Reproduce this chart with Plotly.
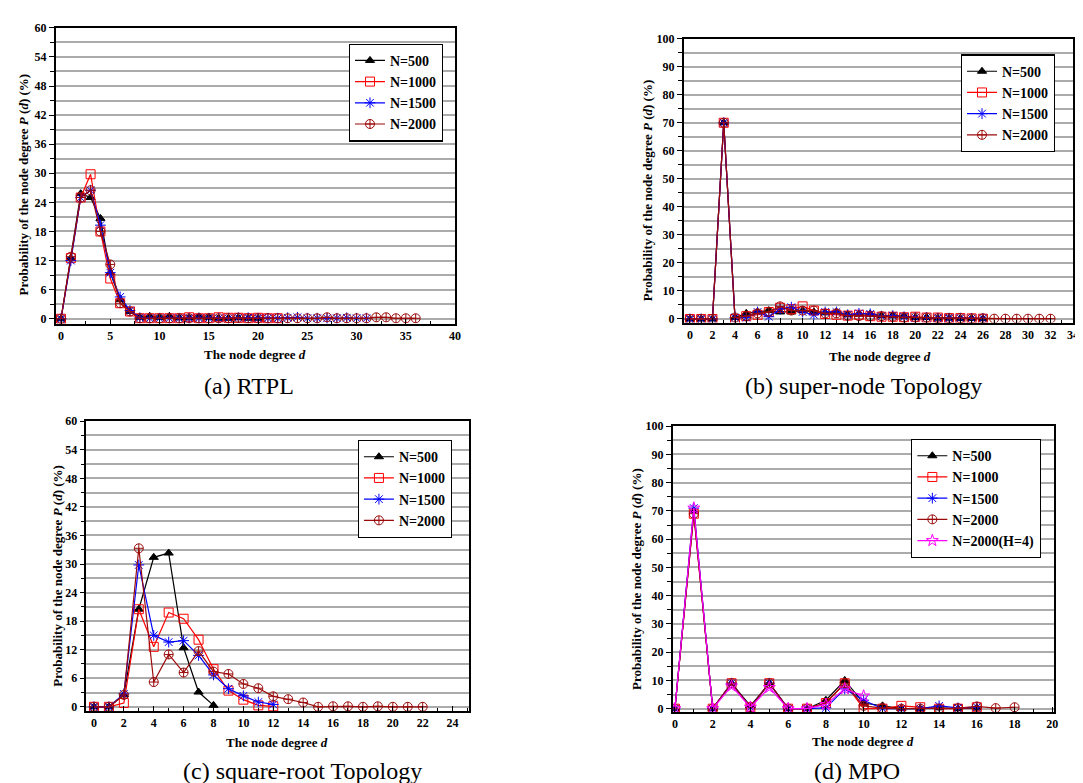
import plotly.graph_objects as go

W, H = 1083, 783

# ---------------- data ----------------
# (a) RTPL
a_500 = [0, 12.5, 25.8, 25.0, 20.7, 9.5, 4.0, 1.5, 0.3, 0.5, 0.3, 0.5, 0.2, 0.2, 0.4, 0.3, 0.1, 0.1, 0.2, 0.1, 0.1]
a_1000 = [0, 12.5, 25.0, 29.8, 18.0, 8.3, 3.2, 1.5, 0.1, 0.1, 0.1, 0.1, 0.1, 0.3, 0.1, 0.1, 0.3, 0.2, 0.2, 0.1, 0.2, 0.1, 0.1]
a_1500 = [0, 12.0, 25.0, 26.5, 19.3, 9.5, 4.5, 1.7, 0.2, 0.1, 0.1, 0.1, 0.1, 0.1, 0.1, 0.1, 0.1, 0.1, 0.2, 0.2, 0.1, 0.1, 0.1, 0.2,
          0.3, 0.1, 0.1, 0.1, 0.1, 0.2, 0.1, 0.1]
a_2000 = [0, 12.8, 25.0, 26.5, 18.0, 11.2, 3.2, 1.5, 0.1, 0.1, 0.1, 0.1, 0.1, 0.1, 0.1, 0.1, 0.1, 0.1, 0.2, 0.1, 0.1, 0.1, 0.1, 0.1,
          0.1, 0.1, 0.1, 0.3, 0.1, 0.1, 0.1, 0.1, 0.3, 0.3, 0.1, 0.1, 0.1]

# (b) super-node Topology
b_500 = [0, 0, 0, 70, 0.5, 2.0, 2.5, 3.0, 2.5, 2.5, 3.0, 2.5, 2.2, 2.5, 1.5, 1.8, 1.8, 1.2, 1.2, 1.0, 0.5, 0.5, 0.3, 0.3, 0.2, 0.2, 0.1]
b_1000 = [0, 0, 0, 70, 0.0, 1.0, 1.5, 2.5, 4.0, 3.5, 4.5, 3.0, 1.8, 1.5, 1.2, 1.5, 1.0, 0.8, 0.8, 0.6, 0.8, 0.5, 0.5, 0.3, 0.3, 0.2, 0.1]
b_1500 = [0, 0, 0, 70, 0.5, 0.5, 2.5, 0.8, 3.5, 4.2, 2.5, 1.5, 2.5, 2.5, 1.5, 2.0, 1.8, 1.0, 1.2, 0.8, 0.5, 0.5, 0.3, 0.3, 0.3, 0.2, 0.2]
b_2000 = [0, 0, 0, 70, 0.5, 1.0, 2.0, 2.5, 4.5, 3.0, 3.0, 3.0, 2.0, 2.0, 1.2, 1.0, 1.0, 1.0, 0.8, 0.5, 0.5, 0.5, 0.3, 0.3, 0.3, 0.2,
          0.2, 0.1, 0.1, 0.1, 0.1, 0.1, 0.1]

# (c) square-root Topology
c_500 = [0, 0, 2.5, 20.5, 31.4, 32.3, 12.4, 3.1, 0.3]
c_1000 = [0, 0, 0.8, 20.5, 12.6, 19.8, 18.5, 14.1, 7.9, 3.4, 1.5, 0.3, 0.1]
c_1500 = [0, 0, 2.7, 29.8, 15.0, 13.6, 13.9, 10.8, 6.7, 3.8, 2.3, 1.0, 0.5]
c_2000 = [0, 0, 2.5, 33.3, 5.2, 11.0, 7.2, 11.7, 7.4, 6.9, 4.8, 3.9, 2.2, 1.6, 0.9, 0, 0.1, 0.1, 0, 0.1, 0, 0, 0]

# (d) MPO
d_500 = [0, 70, 0, 9, 1.0, 9, 0, 0, 3.0, 10.0, 2.0, 1.0, 0, 0, 0.3, 0, 0.3]
d_1000 = [0, 69, 0, 9, 0.5, 9, 0, 0, 2.0, 9.0, 0, 0, 1.0, 0.5, 0, 0, 0.5]
d_1500 = [0, 71, 0, 9, 0.5, 9, 0, 0, 0.3, 7.0, 3.0, 0, 0, 0, 1.0, 0.3, 0.5]
d_2000 = [0, 69, 0, 9, 0.5, 9, 0, 0, 2.0, 9.0, 1.0, 0.2, 0, 0, 0, 0.2, 0.8, 0.2, 0.5]
d_2000h4 = [0, 71, 0, 8, 0.5, 7.5, 0, 0, 1.5, 7.0, 4.5]

series_names = ["N=500", "N=1000", "N=1500", "N=2000", "N=2000(H=4)"]
panel_titles = ["(a) RTPL", "(b) super-node Topology", "(c) square-root Topology", "(d) MPO"]
y_title = "Probability of the node degree <i>P</i> (<i>d</i>) (%)"
x_title = "The node degree <i>d</i>"

# ---------------- styles ----------------
FONT = "Liberation Serif"
styles = {
    "N=500": dict(color="#000000", symbol="triangle-up", fill=True),
    "N=1000": dict(color="#FF0000", symbol="square-open", fill=False),
    "N=1500": dict(color="#0000FF", symbol="asterisk-open", fill=False),
    "N=2000": dict(color="#9B0A0A", symbol="circle-cross-open", fill=False),
    "N=2000(H=4)": dict(color="#FF00FF", symbol="star-open", fill=False),
}


def px_dom_x(a, b):
    return [a / W, b / W]


def px_dom_y(top, bot):
    return [1 - bot / H, 1 - top / H]


panels = [
    dict(data=[a_500, a_1000, a_1500, a_2000], xd=(47, 449), yd=(13, 313), xr=[-0.54, 40], yr=[-1, 60],
         xdt=5, xmn=2.5, ydt=6, ymn=3, leg=(342, 29), ytx=15, ytyc=172, xtx=248, xty=344, cap=(242, 376)),
    dict(data=[b_500, b_1000, b_1500, b_2000], xd=(679, 1071), yd=(24, 312), xr=[-0.56, 34], yr=[-1.3, 100],
         xdt=2, xmn=1, ydt=10, ymn=5, leg=(958, 40), ytx=643, ytyc=178, xtx=877, xty=346, cap=(860, 376)),
    dict(data=[c_500, c_1000, c_1500, c_2000], xd=(78, 463), yd=(412, 706), xr=[-0.5, 25.1], yr=[-0.9, 60],
         xdt=2, xmn=1, ydt=6, ymn=3, leg=(351, 431), ytx=48, ytyc=569, xtx=270, xty=738, cap=(295, 767)),
    dict(data=[d_500, d_1000, d_1500, d_2000, d_2000h4], xd=(668, 1052), yd=(417, 707), xr=[-0.12, 20.1], yr=[-1.2, 100],
         xdt=2, xmn=1, ydt=10, ymn=5, leg=(908, 430), ytx=632, ytyc=572, xtx=860, xty=737, cap=(854, 767)),
]

fig = go.Figure()
annotations = []
layout_extra = {}

for i, p in enumerate(panels):
    n = i + 1
    xa = "x" if n == 1 else f"x{n}"
    ya = "y" if n == 1 else f"y{n}"
    legname = "legend" if n == 1 else f"legend{n}"
    for j, vals in enumerate(p["data"]):
        name = series_names[j]
        st = styles[name]
        marker = dict(symbol=st["symbol"], size=8 if st["fill"] else 9,
                      color=st["color"], line=dict(color=st["color"], width=1))
        fig.add_trace(go.Scatter(
            x=list(range(len(vals))), y=vals, mode="lines+markers", name=name,
            line=dict(color=st["color"], width=1.2), marker=marker,
            xaxis=xa, yaxis=ya, legend=legname, showlegend=True,
        ))

    xkey = "xaxis" if n == 1 else f"xaxis{n}"
    ykey = "yaxis" if n == 1 else f"yaxis{n}"
    layout_extra[xkey] = dict(
        domain=px_dom_x(*p["xd"]), anchor=ya, range=p["xr"], dtick=p["xdt"], tick0=0,
        showgrid=False, zeroline=False, showline=True, linecolor="black", linewidth=1.5, mirror=True,
        ticks="inside", ticklen=5, tickcolor="black", tickwidth=1.2,
        minor=dict(dtick=p["xmn"], tick0=0, ticks="inside", ticklen=3, tickcolor="black", showgrid=False),
        tickfont=dict(family=FONT, size=12, color="black", weight="bold"),
    )
    layout_extra[ykey] = dict(
        domain=px_dom_y(*p["yd"]), anchor=xa, range=p["yr"], dtick=p["ydt"], tick0=0,
        showgrid=True, gridcolor="#ababab", gridwidth=1.5, zeroline=False,
        showline=True, linecolor="black", linewidth=1.5, mirror=True,
        ticks="outside", ticklen=5, tickcolor="black", tickwidth=1.2,
        minor=dict(dtick=p["ymn"], tick0=0, ticks="outside", ticklen=4, tickcolor="black",
                   showgrid=True, gridcolor="#ababab", gridwidth=1.5),
        tickfont=dict(family=FONT, size=12, color="black", weight="bold"),
    )
    layout_extra[legname] = dict(
        x=p["leg"][0] / W, y=1 - p["leg"][1] / H, xanchor="left", yanchor="top",
        bgcolor="white", bordercolor="black", borderwidth=1.2,
        font=dict(family=FONT, size=14, color="black", weight="bold"),
        tracegroupgap=0, itemwidth=30,
    )
    annotations.append(dict(text=y_title, x=p["ytx"] / W, y=1 - p["ytyc"] / H, xref="paper", yref="paper",
                            textangle=-90, showarrow=False, xanchor="center", yanchor="middle",
                            font=dict(family=FONT, size=13, color="black", weight="bold")))
    annotations.append(dict(text=x_title, x=p["xtx"] / W, y=1 - p["xty"] / H, xref="paper", yref="paper",
                            showarrow=False, xanchor="center", yanchor="middle",
                            font=dict(family=FONT, size=13, color="black", weight="bold")))
    annotations.append(dict(text=panel_titles[i], x=p["cap"][0] / W, y=1 - p["cap"][1] / H, xref="paper",
                            yref="paper", showarrow=False, xanchor="center", yanchor="middle",
                            font=dict(family=FONT, size=24, color="black")))

fig.update_layout(
    width=W, height=H, margin=dict(l=0, r=0, t=0, b=0),
    paper_bgcolor="white", plot_bgcolor="white",
    annotations=annotations, **layout_extra,
)

fig.write_html("out.html")
